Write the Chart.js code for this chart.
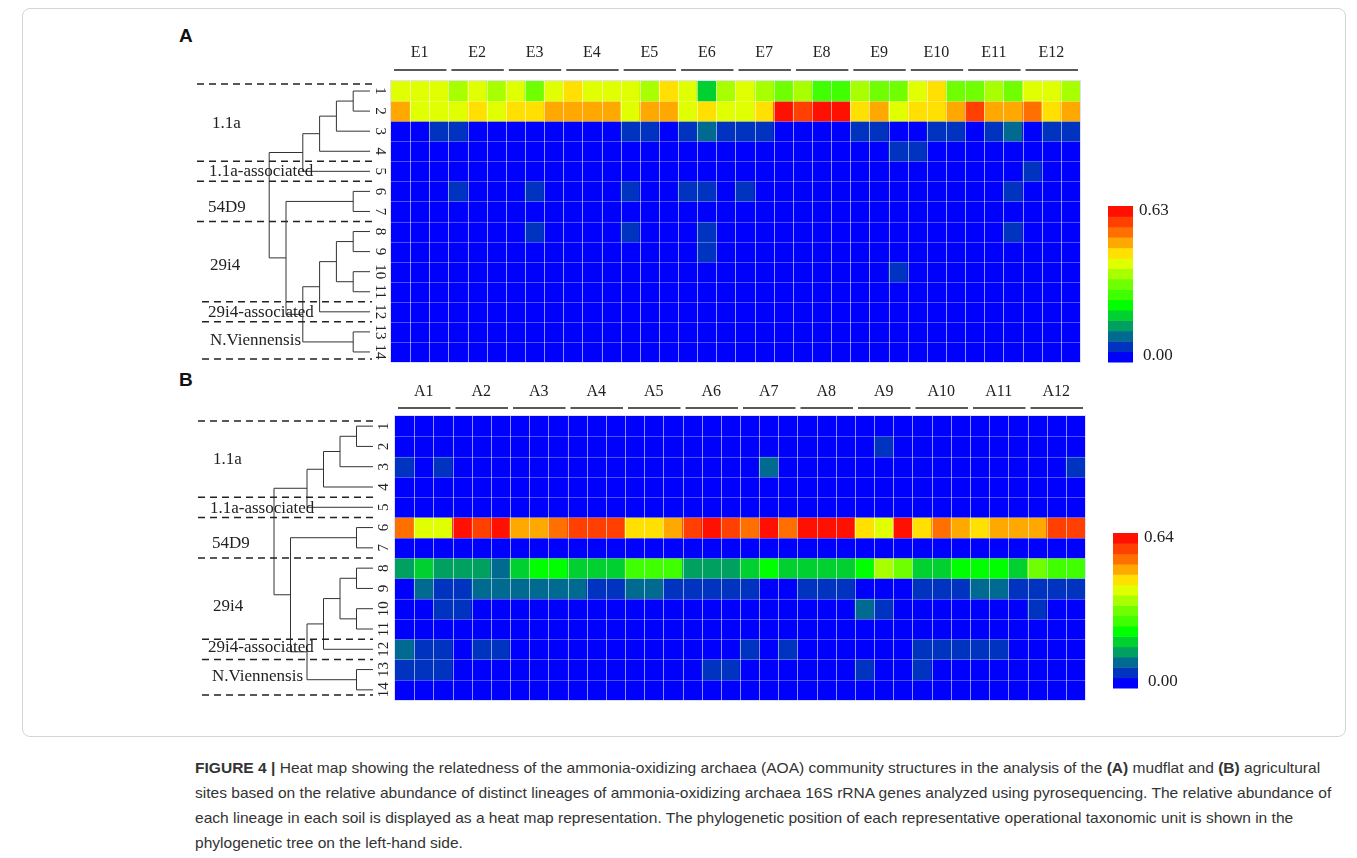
<!DOCTYPE html>
<html><head><meta charset="utf-8">
<script src="https://cdn.jsdelivr.net/npm/chart.js@4.4.0/dist/chart.umd.min.js"></script>
<style>
html,body{margin:0;padding:0;background:#fff;width:1357px;height:858px;overflow:hidden;}
#frame{position:absolute;left:22px;top:8px;width:1322px;height:727px;border:1px solid #d4d4d4;border-radius:8px;}
canvas{position:absolute;left:0;}
.panel{position:absolute;font:bold 19px "Liberation Sans",Arial,sans-serif;color:#111;}
.cap{position:absolute;left:195px;font:15.55px "Liberation Sans",Arial,sans-serif;color:#333;white-space:nowrap;line-height:20px;}
</style></head><body>
<div id="frame"></div>
<div class="panel" style="left:179px;top:25px;">A</div>
<div class="panel" style="left:179px;top:369px;">B</div>
<canvas id="cA" width="1357" height="375" style="top:0px"></canvas>
<canvas id="cB" width="1357" height="365" style="top:375px"></canvas>
<div class="cap" style="top:758px"><b>FIGURE 4 |</b> Heat map showing the relatedness of the ammonia-oxidizing archaea (AOA) community structures in the analysis of the <b>(A)</b> mudflat and <b>(B)</b> agricultural</div>
<div class="cap" style="top:783px">sites based on the relative abundance of distinct lineages of ammonia-oxidizing archaea 16S rRNA genes analyzed using pyrosequencing. The relative abundance of</div>
<div class="cap" style="top:808px">each lineage in each soil is displayed as a heat map representation. The phylogenetic position of each representative operational taxonomic unit is shown in the</div>
<div class="cap" style="top:833px">phylogenetic tree on the left-hand side.</div>
<script>
// ---------------- DATA ----------------
const mudflatSites = ['E1','E2','E3','E4','E5','E6','E7','E8','E9','E10','E11','E12'];
const agriSites = ['A1','A2','A3','A4','A5','A6','A7','A8','A9','A10','A11','A12'];
const replicates = 3;
const rowLabels = ['1','2','3','4','5','6','7','8','9','10','11','12','13','14'];
const cladeNames = ['1.1a','1.1a-associated','54D9','29i4','29i4-associated','N.Viennensis'];
// colour scale classes, from 0 (lowest) to 14 (highest)
const colorScale = ['#0000ff','#0033c0','#006a90','#00a060','#00d030','#00ff00','#40ff00','#70ff00',
                    '#a8ff00','#e0ff00','#ffe000','#ffa800','#ff7000','#ff4000','#ff1000'];
const maxMudflat = '0.63';
const maxAgri = '0.64';
const minLabel = '0.00';
// binned relative abundance (colour class 0-14) per OTU row, 36 columns (12 sites x 3)
const mudflatLevels = [
 [9,9,9,8,9,8,9,7,9,10,9,9,9,8,10,9,4,8, 9,8,7,8,6,6,8,7,7,9,10,7,7,8,7,9,9,8],
 [11,9,9,9,10,9,10,10,11,11,11,11,9,11,11,9,10,9, 9,10,14,13,14,14,10,11,9,10,10,11,13,11,11,12,10,11],
 [0,0,1,1,0,0,0,0,0,0,0,0,1,1,0,1,2,1, 1,1,0,0,0,0,1,1,0,0,1,1,0,1,2,0,1,1],
 [0,0,0,0,0,0,0,0,0,0,0,0,0,0,0,0,0,0, 0,0,0,0,0,0,0,0,1,1,0,0,0,0,0,0,0,0],
 [0,0,0,0,0,0,0,0,0,0,0,0,0,0,0,0,0,0, 0,0,0,0,0,0,0,0,0,0,0,0,0,0,0,1,0,0],
 [0,0,0,1,0,0,0,1,0,0,0,0,1,0,0,1,1,0, 1,0,0,0,0,0,0,0,0,0,0,0,0,0,1,0,0,0],
 [0,0,0,0,0,0,0,0,0,0,0,0,0,0,0,0,0,0, 0,0,0,0,0,0,0,0,0,0,0,0,0,0,0,0,0,0],
 [0,0,0,0,0,0,0,1,0,0,0,0,1,0,0,0,1,0, 0,0,0,0,0,0,0,0,0,0,0,0,0,0,1,0,0,0],
 [0,0,0,0,0,0,0,0,0,0,0,0,0,0,0,0,1,0, 0,0,0,0,0,0,0,0,0,0,0,0,0,0,0,0,0,0],
 [0,0,0,0,0,0,0,0,0,0,0,0,0,0,0,0,0,0, 0,0,0,0,0,0,0,0,1,0,0,0,0,0,0,0,0,0],
 [0,0,0,0,0,0,0,0,0,0,0,0,0,0,0,0,0,0, 0,0,0,0,0,0,0,0,0,0,0,0,0,0,0,0,0,0],
 [0,0,0,0,0,0,0,0,0,0,0,0,0,0,0,0,0,0, 0,0,0,0,0,0,0,0,0,0,0,0,0,0,0,0,0,0],
 [0,0,0,0,0,0,0,0,0,0,0,0,0,0,0,0,0,0, 0,0,0,0,0,0,0,0,0,0,0,0,0,0,0,0,0,0],
 [0,0,0,0,0,0,0,0,0,0,0,0,0,0,0,0,0,0, 0,0,0,0,0,0,0,0,0,0,0,0,0,0,0,0,0,0]
];
const agriLevels = [
 [0,0,0,0,0,0,0,0,0,0,0,0,0,0,0,0,0,0, 0,0,0,0,0,0,0,0,0,0,0,0,0,0,0,0,0,0],
 [0,0,0,0,0,0,0,0,0,0,0,0,0,0,0,0,0,0, 0,0,0,0,0,0,0,1,0,0,0,0,0,0,0,0,0,0],
 [1,0,1,0,0,0,0,0,0,0,0,0,0,0,0,0,0,0, 0,2,0,0,0,0,0,0,0,0,0,0,0,0,0,0,0,1],
 [0,0,0,0,0,0,0,0,0,0,0,0,0,0,0,0,0,0, 0,0,0,0,0,0,0,0,0,0,0,0,0,0,0,0,0,0],
 [0,0,0,0,0,0,0,0,0,0,0,0,0,0,0,0,0,0, 0,0,0,0,0,0,0,0,0,0,0,0,0,0,0,0,0,0],
 [12,9,9,14,13,14,11,11,12,13,13,13,10,10,11,13,14,13, 12,14,12,14,14,14,10,9,14,10,12,11,10,11,11,11,13,13],
 [0,0,0,0,0,0,0,0,0,0,0,0,0,0,0,0,0,0, 0,0,0,0,0,0,0,0,0,0,0,0,0,0,0,0,0,0],
 [3,4,3,3,3,2,4,5,5,4,4,4,6,6,6,3,3,3, 4,5,4,4,4,4,5,8,7,4,4,5,5,5,4,7,6,6],
 [0,2,1,1,2,2,2,2,2,2,1,1,2,2,1,1,1,1, 1,0,0,1,1,1,0,0,0,1,1,1,2,2,1,1,1,1],
 [0,0,1,1,0,0,0,0,0,0,0,0,0,0,0,0,0,0, 0,0,0,0,0,0,2,1,0,0,0,0,0,0,0,1,0,0],
 [0,0,0,0,0,0,0,0,0,0,0,0,0,0,0,0,0,0, 0,0,0,0,0,0,0,0,0,0,0,0,0,0,0,0,0,0],
 [2,1,1,0,1,1,0,0,0,0,0,0,0,0,0,0,0,0, 1,0,1,0,0,0,0,0,0,1,1,1,1,1,0,0,0,0],
 [1,1,1,0,0,0,0,0,0,0,0,0,0,0,0,0,1,1, 0,0,0,0,0,0,1,0,0,1,0,0,0,0,0,0,0,0],
 [0,0,0,0,0,0,0,0,0,0,0,0,0,0,0,0,0,0, 0,0,0,0,0,0,0,0,0,0,0,0,0,0,0,0,0,0]
];
// phylogenetic tree topology (h = node height), leaves are OTU numbers
const tree = {h:6, c:[
  {h:4, c:[{h:3, c:[{h:2, c:[{h:1, c:[1,2]}, 3]}, 4]}, 5]},
  {h:5, c:[{h:1, c:[6,7]},
           {h:4, c:[{h:3, c:[{h:2, c:[{h:1, c:[8,9]}, {h:1, c:[10,11]}]}, 12]}, {h:1, c:[13,14]}]}]}
]};
const cladeBoundaries = [0,4,5,7,11,12,14];

// ---------------- DRAWING ----------------
const SERIF = '"Liberation Serif","Times New Roman",serif';

function heatPlugin(cfg) {
  return {
    id: 'heatDeco',
    afterDatasetsDraw(chart) {
      const {ctx, chartArea: a, scales: {x, y}} = chart;
      const n = chart.data.labels.length;
      const w = (a.right - a.left) / n;
      ctx.save();
      ctx.strokeStyle = 'rgba(255,255,255,0.55)';
      ctx.lineWidth = 1;
      for (let i = 1; i < n; i++) {
        const px = Math.round(x.getPixelForValue(i) - w / 2) + 0.5;
        ctx.beginPath(); ctx.moveTo(px, a.top); ctx.lineTo(px, a.bottom); ctx.stroke();
      }
      ctx.strokeStyle = 'rgba(255,255,255,0.3)';
      for (let r = 1; r < rowLabels.length; r++) {
        const py = Math.round(y.getPixelForValue(r)) + 0.5;
        ctx.beginPath(); ctx.moveTo(a.left, py); ctx.lineTo(a.right, py); ctx.stroke();
      }
      ctx.strokeStyle = 'rgba(200,200,255,0.6)';
      ctx.strokeRect(a.left - 0.5, a.top - 0.5, a.right - a.left + 1, a.bottom - a.top + 1);
      ctx.restore();
    },
    afterDraw(chart) {
      const {ctx, chartArea: a, scales: {x, y}} = chart;
      const n = chart.data.labels.length;
      const w = (a.right - a.left) / n;
      ctx.save();
      // site labels + underlines
      ctx.fillStyle = '#222'; ctx.strokeStyle = '#222';
      ctx.font = '16px ' + SERIF; ctx.textAlign = 'center'; ctx.textBaseline = 'middle';
      cfg.sites.forEach((s, g) => {
        const cx = x.getPixelForValue(g * replicates + 1);
        ctx.fillText(s, cx, a.top + cfg.siteY);
        const l = x.getPixelForValue(g * replicates) - w / 2 + 3;
        const r = x.getPixelForValue(g * replicates + 2) + w / 2 - 2;
        ctx.lineWidth = 1.6;
        ctx.beginPath(); ctx.moveTo(l, a.top + cfg.lineY); ctx.lineTo(r, a.top + cfg.lineY); ctx.stroke();
      });
      // row numbers (rotated)
      ctx.font = '15px ' + SERIF;
      rowLabels.forEach((lab, i) => {
        const py = y.getPixelForValue(i + 0.5);
        ctx.save();
        ctx.translate(a.left - 11, py);
        ctx.rotate(cfg.rot);
        ctx.fillText(lab, 0, 0);
        ctx.restore();
      });
      // dendrogram
      ctx.lineWidth = 1; ctx.strokeStyle = '#333';
      const leafEnd = cfg.leafEnd;
      function drawNode(node) {
        if (typeof node === 'number') {
          return {x: leafEnd, y: y.getPixelForValue(node - 0.5)};
        }
        const nx = leafEnd - node.h * cfg.unit;
        const kids = node.c.map(drawNode);
        const ys = kids.map(k => k.y);
        ctx.beginPath();
        ctx.moveTo(nx, Math.min(...ys)); ctx.lineTo(nx, Math.max(...ys)); ctx.stroke();
        kids.forEach(k => { ctx.beginPath(); ctx.moveTo(nx, k.y); ctx.lineTo(k.x, k.y); ctx.stroke(); });
        return {x: nx, y: ys.reduce((s, v) => s + v, 0) / ys.length};
      }
      drawNode(tree);
      // dashed clade separators
      ctx.setLineDash([7, 5]); ctx.lineWidth = 1.5; ctx.strokeStyle = '#222';
      cladeBoundaries.forEach((b, i) => {
        let py = y.getPixelForValue(b);
        if (i === 0) py += cfg.dashInset; if (i === cladeBoundaries.length - 1) py -= cfg.dashInset;
        const x0 = i < 4 ? cfg.dashX0 : cfg.dashX1;
        ctx.beginPath(); ctx.moveTo(x0, py); ctx.lineTo(cfg.dashEnd, py); ctx.stroke();
      });
      ctx.setLineDash([]);
      // clade names
      ctx.font = '17px ' + SERIF; ctx.textAlign = 'left'; ctx.fillStyle = '#222';
      cladeNames.forEach((nm, i) => {
        ctx.fillText(nm, cfg.cladeX[i], y.getPixelForValue(cfg.cladeRow[i]));
      });
      // colour bar
      const cb = cfg.bar;
      const bx = a.right + cb.dx, bBottom = a.bottom - cb.dyBottom;
      const bh = cb.h / colorScale.length;
      colorScale.forEach((c, i) => {
        ctx.fillStyle = c;
        ctx.fillRect(bx, bBottom - (i + 1) * bh, cb.w, bh + 0.5);
      });
      ctx.fillStyle = '#222'; ctx.font = '17px ' + SERIF; ctx.textAlign = 'left';
      ctx.fillText(cfg.max, bx + cb.w + 6, bBottom - cb.h + 5);
      ctx.fillText(minLabel, bx + cb.w + 10, bBottom - 6);
      ctx.restore();
    }
  };
}

function makeChart(id, levels, cfg) {
  const labels = [];
  cfg.sites.forEach(s => { for (let r = 1; r <= replicates; r++) labels.push(s + '.' + r); });
  const datasets = levels.map((row, ri) => ({
    label: rowLabels[ri],
    data: row.map(() => [ri, ri + 1]),
    backgroundColor: row.map(l => colorScale[l]),
    borderWidth: 0,
    borderSkipped: false,
    categoryPercentage: 1,
    barPercentage: 1,
    grouped: false
  }));
  return new Chart(document.getElementById(id), {
    type: 'bar',
    data: {labels, datasets},
    options: {
      responsive: false, animation: false, devicePixelRatio: 1, events: [],
      layout: {padding: cfg.pad},
      plugins: {legend: {display: false}, tooltip: {enabled: false}},
      scales: {
        x: {type: 'category', display: false, offset: true},
        y: {type: 'linear', display: false, min: 0, max: rowLabels.length, reverse: true}
      }
    },
    plugins: [heatPlugin(cfg)]
  });
}

makeChart('cA', mudflatLevels, {
  sites: mudflatSites, max: maxMudflat,
  pad: {left: 391, right: 277, top: 81, bottom: 13},
  siteY: -28, lineY: -11, rot: Math.PI / 2,
  leafEnd: 370, unit: 16.8,
  dashInset: 3, dashX0: 197, dashX1: 202, dashEnd: 372,
  cladeX: [212, 209, 208, 210, 208, 210], cladeRow: [2.1, 4.53, 6.28, 9.17, 11.56, 12.95],
  bar: {dx: 28, dyBottom: 0, w: 25, h: 156}
});
makeChart('cB', agriLevels, {
  sites: agriSites, max: maxAgri,
  pad: {left: 395, right: 272, top: 41, bottom: 40},
  siteY: -24, lineY: -8, rot: -Math.PI / 2,
  leafEnd: 373, unit: 16.5,
  dashInset: 5, dashX0: 198, dashX1: 202, dashEnd: 373,
  cladeX: [213, 210, 212, 213, 208, 212], cladeRow: [2.17, 4.58, 6.3, 9.4, 11.43, 12.86],
  bar: {dx: 28, dyBottom: 12, w: 25, h: 155}
});
</script>
</body></html>
